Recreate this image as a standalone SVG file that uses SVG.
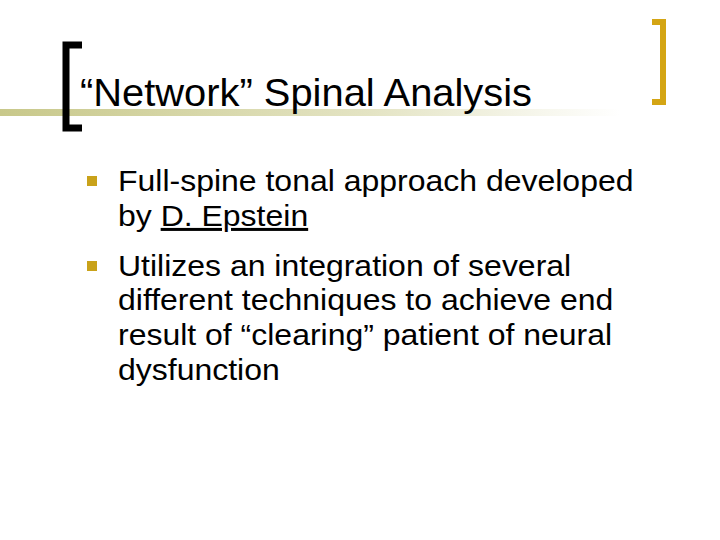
<svg xmlns="http://www.w3.org/2000/svg" width="720" height="540" viewBox="0 0 720 540">
<defs>
<linearGradient id="g" x1="0" x2="1"><stop offset="0" stop-color="#c8c88a"/><stop offset="0.6" stop-color="#e4e4c4"/><stop offset="1" stop-color="#ffffff"/></linearGradient>
<style>.t{font-family:"Liberation Sans",Arial,sans-serif;fill:#000}.b{font-size:30px}</style>
</defs>
<rect width="720" height="540" fill="#fff"/>
<rect x="0" y="109" width="620" height="7" fill="url(#g)"/>
<path d="M82,45 H66 V128 H82" fill="none" stroke="#000" stroke-width="7"/>
<path d="M652,22 H663 V102 H652" fill="none" stroke="#d4a514" stroke-width="6"/>
<text class="t" x="80" y="106" font-size="39" textLength="452" lengthAdjust="spacingAndGlyphs">“Network” Spinal Analysis</text>
<g fill="#c9a21a"><rect x="87" y="176" width="10" height="10"/><rect x="87" y="261" width="10" height="10"/></g>
<g class="t b" transform="translate(118,0) scale(1.066,1) translate(-118,0)">
<text x="118" y="191">Full-spine tonal approach developed</text>
<text x="118" y="226">by <tspan text-decoration="underline">D. Epstein</tspan></text>
<text x="118" y="276">Utilizes an integration of several</text>
<text x="118" y="310">different techniques to achieve end</text>
<text x="118" y="345">result of “clearing” patient of neural</text>
<text x="118" y="380">dysfunction</text>
</g>
</svg>
